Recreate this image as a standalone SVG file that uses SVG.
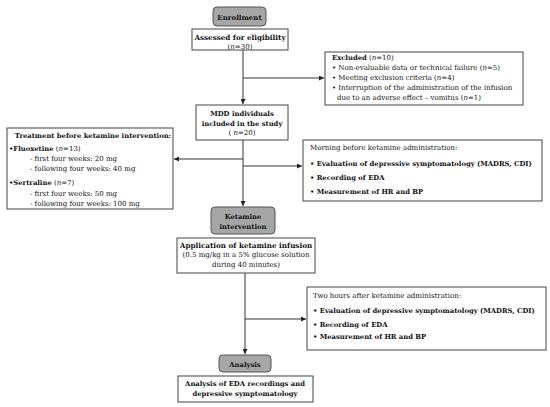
<svg xmlns="http://www.w3.org/2000/svg" width="550" height="407" viewBox="0 0 550 407">
<style>
text{font-family:"DejaVu Serif","Liberation Serif",serif;fill:#111;font-size:7px}
.b{font-weight:bold;font-size:6.8px}
.c{text-anchor:middle}
.box{fill:#fff;stroke:#444;stroke-width:1}
.gbox{fill:#a6a6a6;stroke:#555;stroke-width:1}
.ln{stroke:#333;stroke-width:1;fill:none}
</style>
<defs>
<marker id="ah" viewBox="0 0 6 6" refX="6" refY="3" markerWidth="5" markerHeight="5" orient="auto" markerUnits="userSpaceOnUse">
<path d="M0,0 L6,3 L0,6 Z" fill="#222"/>
</marker>
</defs>
<g id="connectors">
<path class="ln" d="M243,50 V104" marker-end="url(#ah)"/>
<path class="ln" d="M243,78 H324" marker-end="url(#ah)"/>
<path class="ln" d="M243,140 V206" marker-end="url(#ah)"/>
<path class="ln" d="M243,159 H174" marker-end="url(#ah)"/>
<path class="ln" d="M243,166 H302" marker-end="url(#ah)"/>
<path class="ln" d="M245,273 V354" marker-end="url(#ah)"/>
<path class="ln" d="M245,319 H306" marker-end="url(#ah)"/>
</g>
<g id="enrollment">
<rect class="gbox" x="213" y="7" width="53" height="19" rx="4"/>
<text class="b c" x="239.5" y="19.5" style="font-size:7px">Enrollment</text>
</g>
<g id="assessed">
<rect class="box" x="192" y="29" width="96" height="21"/>
<text class="b c" x="240" y="40" style="font-size:7.2px">Assessed for eligibility</text>
<text class="c" x="240" y="48.5">(<tspan font-style="italic">n</tspan>=30)</text>
</g>
<g id="excluded">
<rect class="box" x="325" y="52" width="198" height="53"/>
<text x="332" y="59.5"><tspan class="b">Excluded</tspan>  (<tspan font-style="italic">n</tspan>=10)</text>
<text x="332" y="70">• Non-evaluable data or technical failure (<tspan font-style="italic">n</tspan>=5)</text>
<text x="332" y="80">• Meeting exclusion criteria (<tspan font-style="italic">n</tspan>=4)</text>
<text x="332" y="90">• Interruption of the administration of the infusion</text>
<text x="337" y="99.5">due to an adverse effect – vomitus (<tspan font-style="italic">n</tspan>=1)</text>
</g>
<g id="mdd">
<rect class="box" x="196" y="105" width="92" height="35"/>
<text class="b c" x="242" y="115.5">MDD individuals</text>
<text class="b c" x="242" y="125.5">included  in the study</text>
<text class="c" x="242" y="135">( <tspan font-style="italic">n</tspan>=20)</text>
</g>
<g id="treatment">
<rect class="box" x="7" y="128" width="166" height="81"/>
<text class="b c" x="93" y="137.5">Treatment before ketamine intervention:</text>
<text x="9" y="150.5"><tspan class="b">•Fluoxetine</tspan> (<tspan font-style="italic">n</tspan>=13)</text>
<text x="30" y="161">- first four weeks: 20 mg</text>
<text x="30" y="171">- following four weeks: 40 mg</text>
<text x="9" y="185"><tspan class="b">•Sertraline</tspan> (<tspan font-style="italic">n</tspan>=7)</text>
<text x="30" y="195.5">- first four weeks: 50 mg</text>
<text x="30" y="205.5">- following four weeks: 100 mg</text>
</g>
<g id="morning">
<rect class="box" x="303" y="140" width="239" height="61"/>
<text x="310" y="149.5">Morning before ketamine administration:</text>
<text class="b" x="310" y="165.5">• Evaluation of depressive symptomatology (MADRS, CDI)</text>
<text class="b" x="310" y="180">• Recording of EDA</text>
<text class="b" x="310" y="193.5">• Measurement of HR and BP</text>
</g>
<g id="ketamine">
<rect class="gbox" x="211" y="207" width="64" height="27" rx="4"/>
<text class="b c" x="243" y="218.5">Ketamine</text>
<text class="b c" x="243" y="228.5">intervention</text>
</g>
<g id="application">
<rect class="box" x="177" y="238" width="138" height="35"/>
<text class="b c" x="246" y="247.5" style="font-size:7.2px">Application  of ketamine infusion</text>
<text class="c" x="246" y="257">(0.5 mg/kg  in a 5% glucose solution</text>
<text class="c" x="246" y="267">during 40 minutes)</text>
</g>
<g id="twohours">
<rect class="box" x="307" y="287" width="239" height="63"/>
<text x="313" y="297.5">Two hours after ketamine administration:</text>
<text class="b" x="313" y="312.5">• Evaluation of depressive symptomatology (MADRS, CDI)</text>
<text class="b" x="313" y="326.5">• Recording of EDA</text>
<text class="b" x="313" y="338.5">• Measurement of HR and BP</text>
</g>
<g id="analysis">
<rect class="gbox" x="219" y="355" width="52" height="17" rx="4"/>
<text class="b c" x="245" y="366.5">Analysis</text>
</g>
<g id="analysis-eda">
<rect class="box" x="178" y="376" width="135" height="26"/>
<text class="b c" x="245" y="386">Analysis  of EDA recordings and</text>
<text class="b c" x="245" y="396">depressive symptomatology</text>
</g>
</svg>
